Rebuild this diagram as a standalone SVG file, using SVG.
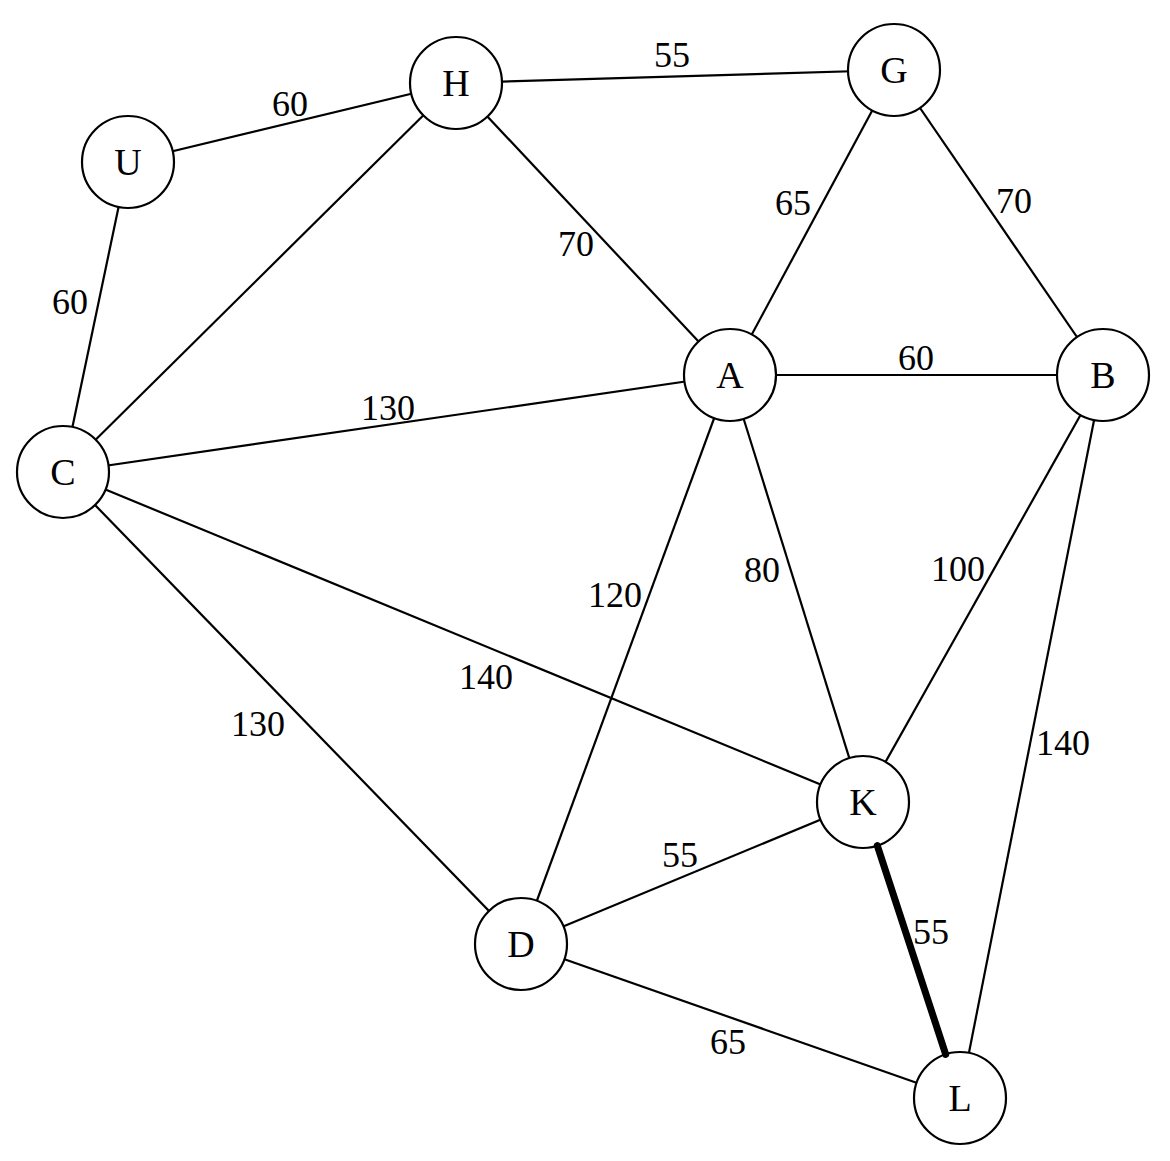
<svg xmlns="http://www.w3.org/2000/svg" width="1170" height="1161" viewBox="0 0 1170 1161">
<style>
.e{stroke:#000;stroke-width:2.2;fill:none}
.n circle{fill:#fff;stroke:#000;stroke-width:2.2}
.n text{font-family:"Liberation Serif","Times New Roman",serif;font-size:38px;text-anchor:middle;fill:#000}
.w{font-family:"Liberation Serif","Times New Roman",serif;font-size:36px;text-anchor:middle;fill:#000}
</style>
<rect width="1170" height="1161" fill="#fff"/>
<g id="connectors">
<line class="e" x1="456" y1="83" x2="894" y2="70"/>
<line class="e" x1="128" y1="162" x2="456" y2="83"/>
<line class="e" x1="128" y1="162" x2="63" y2="472"/>
<line class="e" x1="456" y1="83" x2="63" y2="472"/>
<line class="e" x1="456" y1="83" x2="730" y2="375"/>
<line class="e" x1="894" y1="70" x2="730" y2="375"/>
<line class="e" x1="894" y1="70" x2="1103" y2="375"/>
<line class="e" x1="730" y1="375" x2="1103" y2="375"/>
<line class="e" x1="63" y1="472" x2="730" y2="375"/>
<line class="e" x1="730" y1="375" x2="521" y2="944"/>
<line class="e" x1="730" y1="375" x2="863" y2="802"/>
<line class="e" x1="1103" y1="375" x2="863" y2="802"/>
<line class="e" x1="63" y1="472" x2="863" y2="802"/>
<line class="e" x1="63" y1="472" x2="521" y2="944"/>
<line class="e" x1="1103" y1="375" x2="960" y2="1098"/>
<line class="e" x1="521" y1="944" x2="863" y2="802"/>
<line class="e" x1="521" y1="944" x2="960" y2="1098"/>
</g>
<g id="nodes">
<g id="node-H" class="n"><circle cx="456" cy="83" r="46"/><text x="456" y="96">H</text></g>
<g id="node-G" class="n"><circle cx="894" cy="70" r="46"/><text x="894" y="83">G</text></g>
<g id="node-U" class="n"><circle cx="128" cy="162" r="46"/><text x="128" y="175">U</text></g>
<g id="node-A" class="n"><circle cx="730" cy="375" r="46"/><text x="730" y="388">A</text></g>
<g id="node-B" class="n"><circle cx="1103" cy="375" r="46"/><text x="1103" y="388">B</text></g>
<g id="node-C" class="n"><circle cx="63" cy="472" r="46"/><text x="63" y="485">C</text></g>
<g id="node-K" class="n"><circle cx="863" cy="802" r="46"/><text x="863" y="815">K</text></g>
<g id="node-D" class="n"><circle cx="521" cy="944" r="46"/><text x="521" y="957">D</text></g>
<g id="node-L" class="n"><circle cx="960" cy="1098" r="46"/><text x="960" y="1111">L</text></g>
</g>
<g id="highlight">
<line x1="877.3" y1="845.7" x2="945.7" y2="1054.3" stroke="#000" stroke-width="7" stroke-linecap="round"/>
</g>
<g id="labels">
<text class="w" x="672" y="67">55</text>
<text class="w" x="290" y="116">60</text>
<text class="w" x="70" y="314">60</text>
<text class="w" x="576" y="256">70</text>
<text class="w" x="793" y="215">65</text>
<text class="w" x="1014" y="213">70</text>
<text class="w" x="916" y="370">60</text>
<text class="w" x="388" y="420">130</text>
<text class="w" x="615" y="607">120</text>
<text class="w" x="762" y="582">80</text>
<text class="w" x="958" y="581">100</text>
<text class="w" x="486" y="689">140</text>
<text class="w" x="258" y="736">130</text>
<text class="w" x="1063" y="755">140</text>
<text class="w" x="680" y="867">55</text>
<text class="w" x="931" y="944">55</text>
<text class="w" x="728" y="1054">65</text>
</g>
</svg>
